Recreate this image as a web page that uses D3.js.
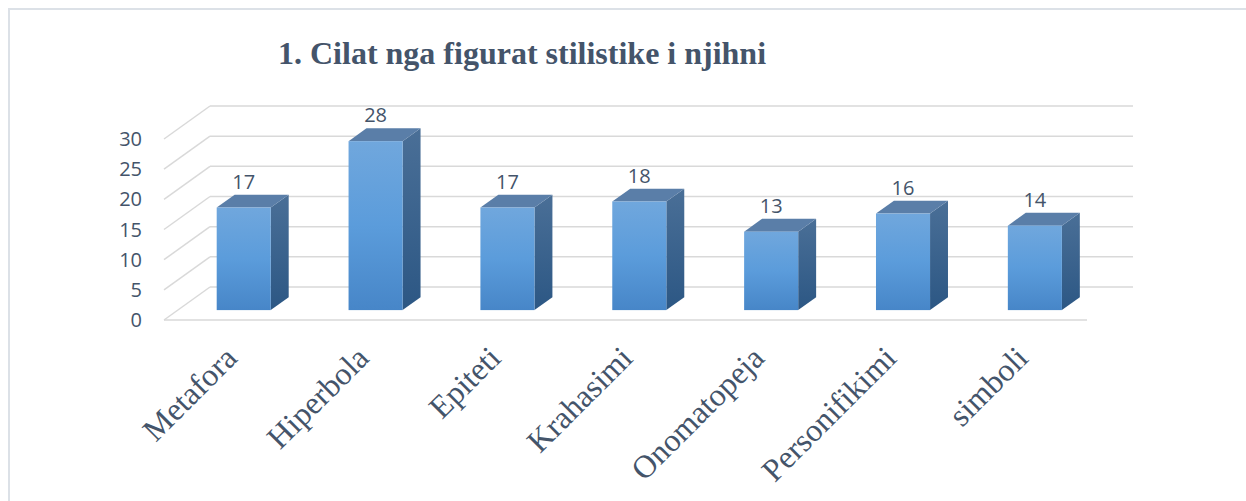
<!DOCTYPE html>
<html>
<head>
<meta charset="utf-8">
<script src="https://cdn.jsdelivr.net/npm/d3@7"></script>
<style>
  html, body { margin: 0; padding: 0; background: #fff; }
  svg { display: block; }
</style>
</head>
<body>
<svg id="chart" width="1246" height="501"></svg>
<script>
const title = "1. Cilat nga figurat stilistike i njihni";
const categories = ["Metafora", "Hiperbola", "Epiteti", "Krahasimi", "Onomatopeja", "Personifikimi", "simboli"];
const values = [17, 28, 17, 18, 13, 16, 14];
const yTicks = [0, 5, 10, 15, 20, 25, 30];

const svg = d3.select("#chart");
const textColor = "#44546A";
const gridColor = "#D9D9D9";

// frame
svg.append("rect").attr("x", 9).attr("y", 9).attr("width", 1260).attr("height", 520)
  .attr("fill", "none").attr("stroke", "#DCE1E7").attr("stroke-width", 2);

// title
svg.append("text").attr("x", 278).attr("y", 64)
  .attr("font-family", "'Liberation Serif', 'Times New Roman', serif")
  .attr("font-weight", "bold").attr("font-size", 32).attr("fill", textColor)
  .text(title);

// 3D geometry
const floorY = 320, x0 = 164, x1 = 1087;
const depth = { x: 46, y: -33 };
const y = d3.scaleLinear().domain([0, 30]).range([0, 181]); // height in px
const x = d3.scaleBand().domain(categories).range([x0, x1]).paddingInner(0.59).paddingOuter(0.295);

const g = svg.append("g");

// gridlines: left wall diagonals + back wall horizontals
yTicks.forEach(t => {
  const fy = floorY - y(t);
  g.append("line").attr("x1", x0).attr("y1", fy).attr("x2", x0 + depth.x).attr("y2", fy + depth.y)
    .attr("stroke", gridColor).attr("stroke-width", 1.5);
  g.append("line").attr("x1", x0 + depth.x).attr("y1", fy + depth.y).attr("x2", x1 + depth.x).attr("y2", fy + depth.y)
    .attr("stroke", gridColor).attr("stroke-width", 1.5);
});
// floor front edge
g.append("line").attr("x1", x0).attr("y1", floorY).attr("x2", x1).attr("y2", floorY)
  .attr("stroke", gridColor).attr("stroke-width", 1.5);

// y tick labels
svg.append("g").selectAll("text").data(yTicks).join("text")
  .attr("x", 142).attr("y", d => floorY - y(d))
  .attr("dy", "0.35em").attr("text-anchor", "end")
  .attr("font-family", "'Open Sans', sans-serif").attr("font-size", 20).attr("fill", textColor)
  .text(d => d);

// gradients
const defs = svg.append("defs");
const gf = defs.append("linearGradient").attr("id", "gFront").attr("x1", 0).attr("y1", 0).attr("x2", 0).attr("y2", 1);
gf.append("stop").attr("offset", "0%").attr("stop-color", "#70A7DD");
gf.append("stop").attr("offset", "50%").attr("stop-color", "#5B9CDB");
gf.append("stop").attr("offset", "100%").attr("stop-color", "#4786C8");
const gs = defs.append("linearGradient").attr("id", "gSide").attr("x1", 0).attr("y1", 0).attr("x2", 0).attr("y2", 1);
gs.append("stop").attr("offset", "0%").attr("stop-color", "#4A6F97");
gs.append("stop").attr("offset", "100%").attr("stop-color", "#2C5784");

// bars
const t0 = 0.30, t1 = 0.69;
const bw = x.bandwidth();
const bars = svg.append("g").selectAll("g").data(categories).join("g");
bars.each(function(c, i) {
  const v = values[i];
  const h = y(v);
  const bx = x(c) + depth.x * t0;
  const by = floorY + depth.y * t0;
  const dx = depth.x * (t1 - t0), dy = depth.y * (t1 - t0);
  const sel = d3.select(this);
  // side
  sel.append("path").attr("d", `M${bx + bw},${by} L${bx + bw + dx},${by + dy} L${bx + bw + dx},${by + dy - h} L${bx + bw},${by - h} Z`)
    .attr("fill", "url(#gSide)");
  // top
  sel.append("path").attr("d", `M${bx},${by - h} L${bx + dx},${by - h + dy} L${bx + bw + dx},${by - h + dy} L${bx + bw},${by - h} Z`)
    .attr("fill", "#5A7EA8");
  // front
  sel.append("rect").attr("x", bx).attr("y", by - h).attr("width", bw).attr("height", h)
    .attr("fill", "url(#gFront)");
  // value label
  sel.append("text").attr("x", bx + bw / 2).attr("y", by - h + dy - 6)
    .attr("text-anchor", "middle")
    .attr("font-family", "'Open Sans', sans-serif").attr("font-size", 20).attr("fill", textColor)
    .text(v);
  // category label
  const lx = bx + bw / 2 - 5, ly = 360;
  sel.append("text").attr("transform", `translate(${lx},${ly}) rotate(-45)`)
    .attr("text-anchor", "end")
    .attr("font-family", "'Liberation Serif', 'Times New Roman', serif").attr("font-size", 32).attr("fill", textColor)
    .text(c);
});
</script>
</body>
</html>
